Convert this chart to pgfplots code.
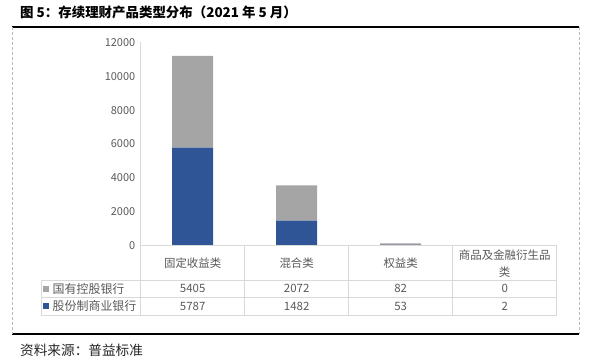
\documentclass[border=0pt]{standalone}
\usepackage{fontspec}
\setmainfont{Noto Sans CJK SC}
\usepackage{pgfplots}
\pgfplotsset{compat=1.18}
\definecolor{cgray}{HTML}{A5A5A5}
\definecolor{cblue}{HTML}{2F5597}
\definecolor{grid}{HTML}{D9D9D9}
\definecolor{txt}{HTML}{595959}
\begin{document}
\begin{tikzpicture}[x=1bp,y=1bp]
\path[use as bounding box] (0,0) rectangle (589,359);
\begin{axis}[
  at={(140.7bp,113.3bp)}, anchor=south west,
  scale only axis, width=416bp, height=203.4bp,
  xmin=-0.5, xmax=3.5, ymin=0, ymax=12000,
  ytick={0,2000,...,12000},
  xtick=\empty,
  axis x line=none,
  axis y line*=left,
  y axis line style={draw=grid, line width=0.8pt},
  major tick length=0pt,
  ybar stacked, bar width=41bp,
  ticklabel style={font=\fontsize{11}{13}\selectfont, text=txt},
  /pgf/number format/assume math mode=true,
  scaled y ticks=false,
  yticklabel style={/pgf/number format/1000 sep={}, xshift=-2bp},
  clip=false,
]
\addplot[fill=cblue, draw=none] coordinates {(0,5787) (1,1482) (2,53) (3,2)};
\addplot[fill=cgray, draw=none] coordinates {(0,5405) (1,2072) (2,82) (3,0)};
\end{axis}
% frame
\draw[black, line width=1.3bp] (12,332) -- (579,332);
\draw[black, line width=1.3bp] (12,25) -- (579,25);
\draw[gray!55, line width=0.8bp, dash pattern=on 3bp off 2bp] (12,332) -- (12,25);
\draw[gray!55, line width=0.8bp, dash pattern=on 3bp off 2bp] (579,332) -- (579,25);
% data table
\begin{scope}[draw=grid, line width=0.8bp]
\draw (140.7,113.3) -- (556.7,113.3);
\draw (40.9,79) -- (556.7,79);
\draw (40.9,61.7) -- (556.7,61.7);
\draw (40.9,44) -- (556.7,44);
\draw (40.9,79) -- (40.9,44);
\draw (140.7,113.3) -- (140.7,44);
\draw (244.7,113.3) -- (244.7,44);
\draw (348.7,113.3) -- (348.7,44);
\draw (452.7,113.3) -- (452.7,44);
\draw (556.7,113.3) -- (556.7,44);
\end{scope}
\begin{scope}[every node/.style={font=\fontsize{11.5}{13}\selectfont, text=txt, inner sep=0pt}]
\node at (192.7,96.1) {固定收益类};
\node at (296.7,96.1) {混合类};
\node at (400.7,96.1) {权益类};
\node at (504.7,104) {商品及金融衍生品};
\node at (504.7,87.3) {类};
\node at (192.7,70.3) {5405};
\node at (296.7,70.3) {2072};
\node at (400.7,70.3) {82};
\node at (504.7,70.3) {0};
\node at (192.7,53) {5787};
\node at (296.7,53) {1482};
\node at (400.7,53) {53};
\node at (504.7,53) {2};
\node[anchor=west, font=\fontsize{12}{13}\selectfont] at (52.5,70.3) {国有控股银行};
\node[anchor=west, font=\fontsize{12}{13}\selectfont] at (52.5,53) {股份制商业银行};
\end{scope}
\fill[cgray] (43,67.3) rectangle (49,73.3);
\fill[cblue] (43,50) rectangle (49,56);
% titles
\node[anchor=west, inner sep=0pt, font=\fontsize{13.5}{15}\selectfont\bfseries] at (20,347) {图 5：存续理财产品类型分布（2021 年 5 月）};
\node[anchor=west, inner sep=0pt, font=\fontsize{13.7}{15}\selectfont, text=black!85] at (20,9) {资料来源：普益标准};
\end{tikzpicture}
\end{document}
